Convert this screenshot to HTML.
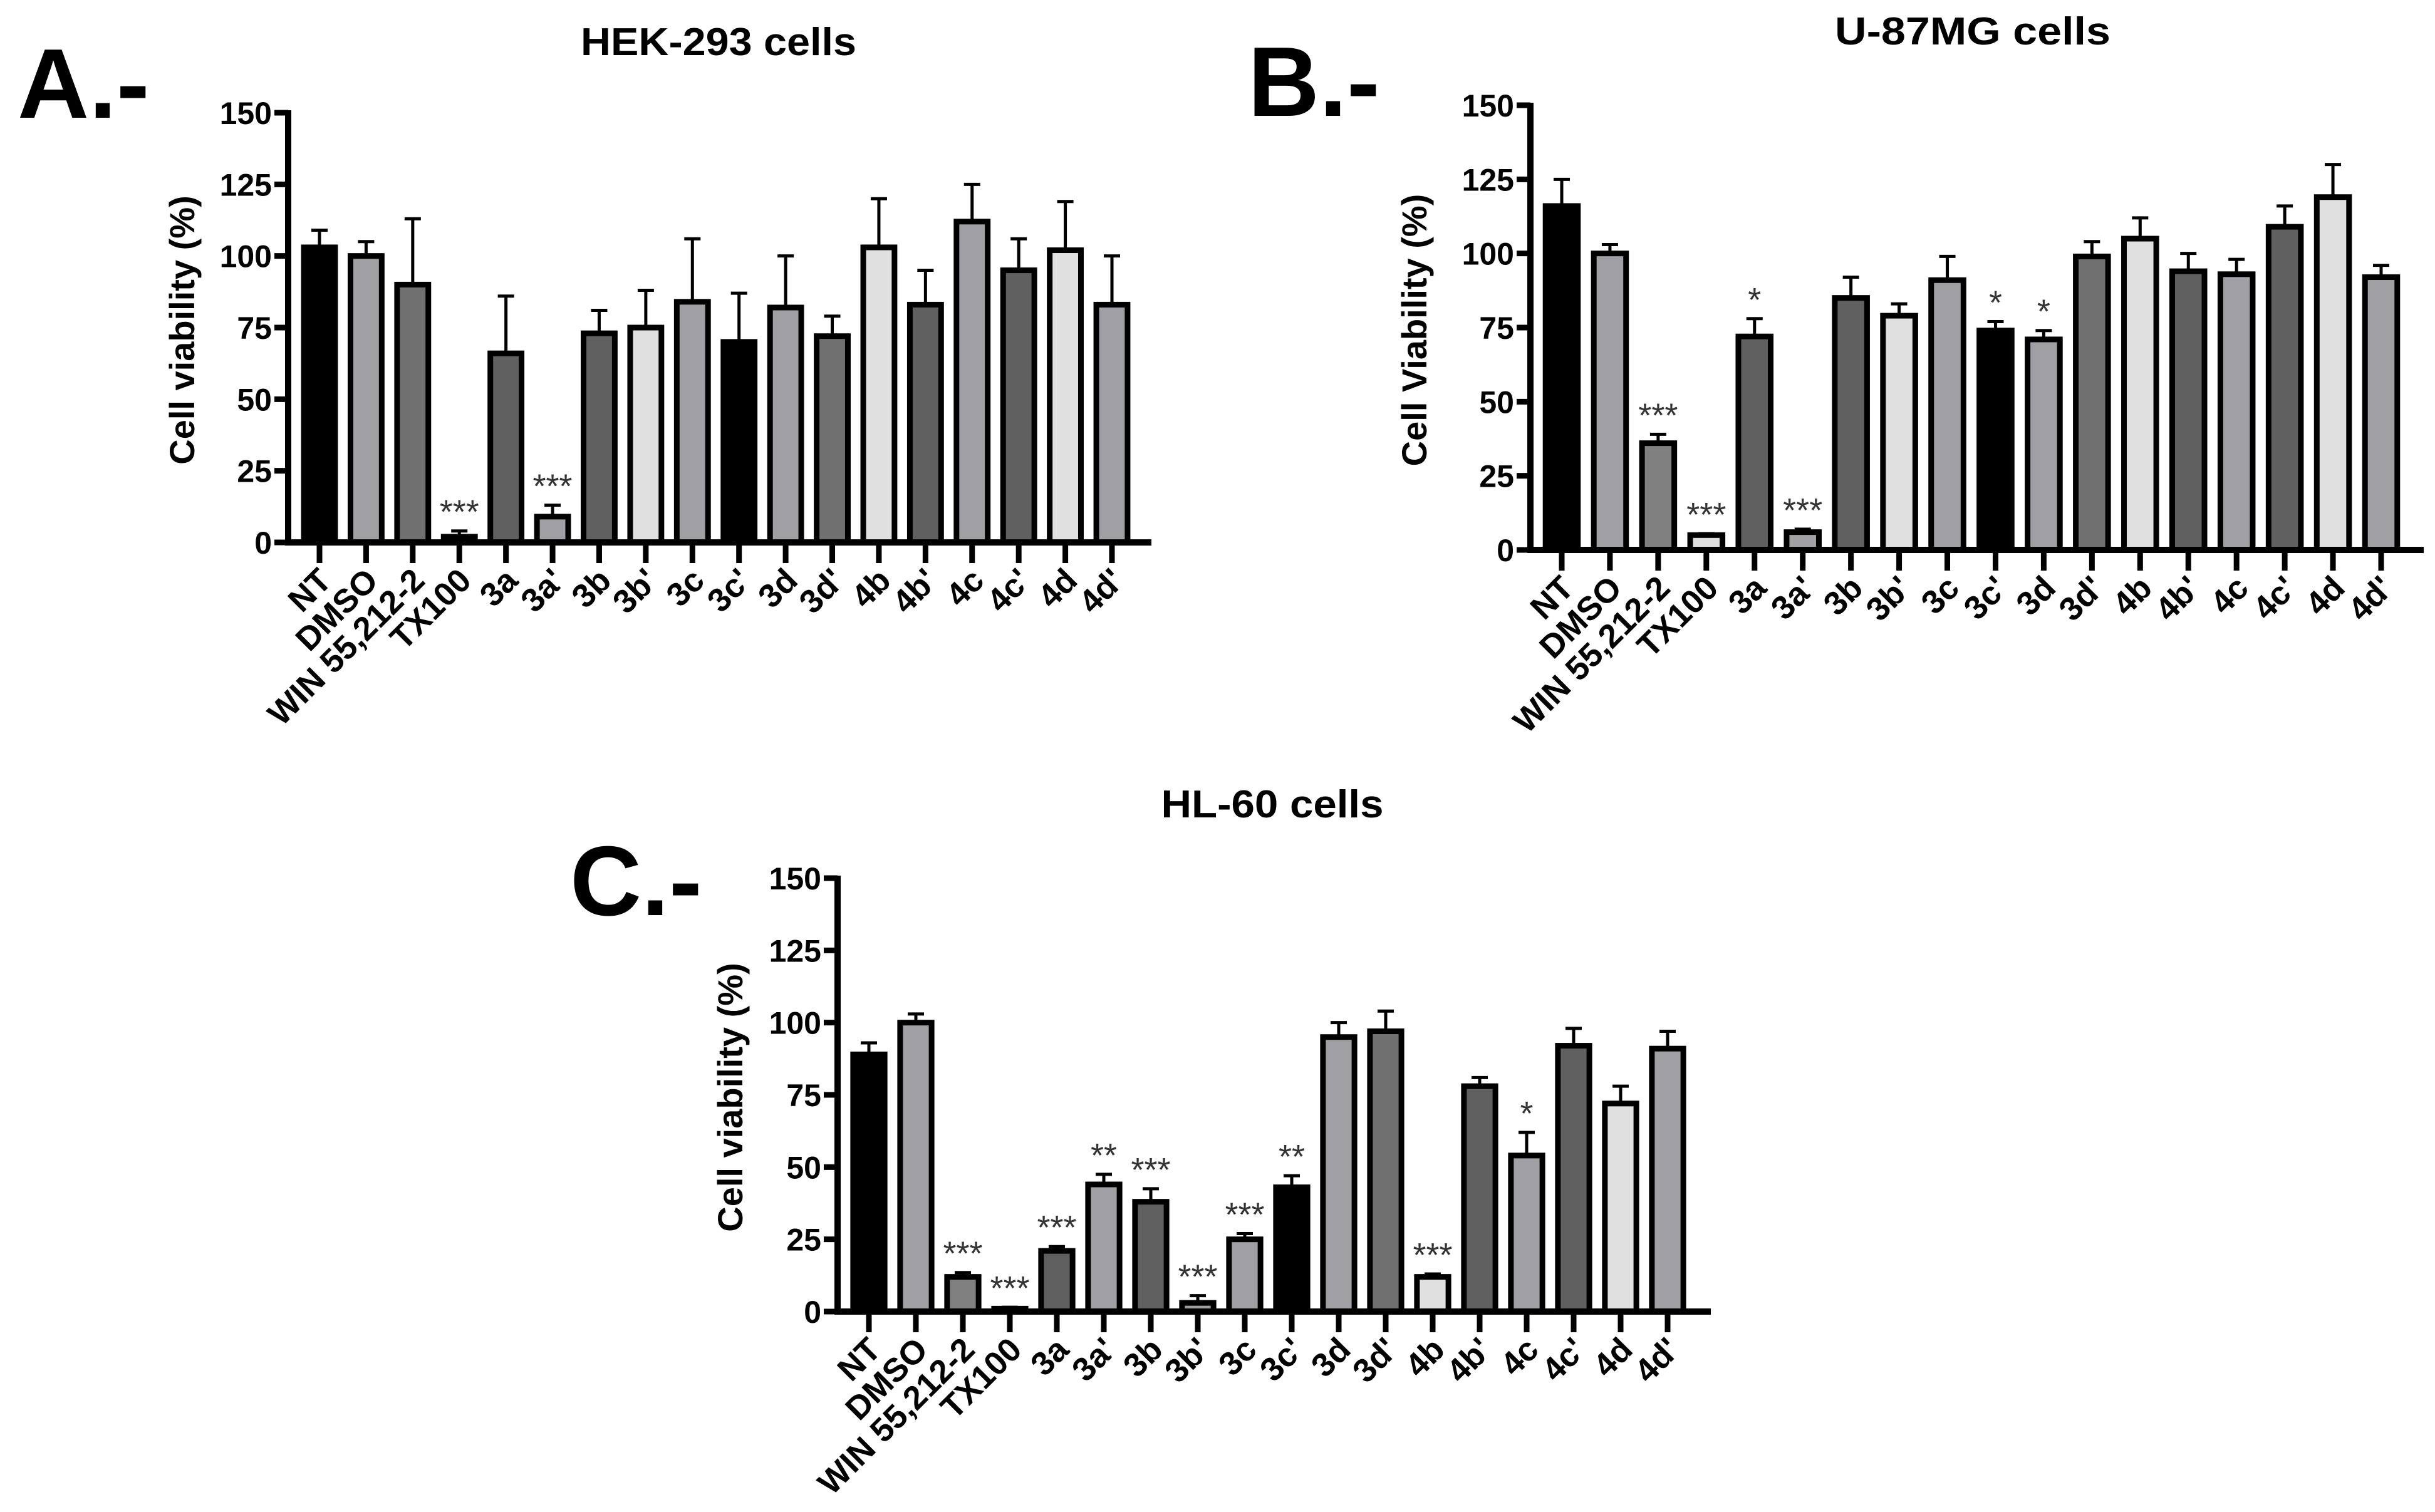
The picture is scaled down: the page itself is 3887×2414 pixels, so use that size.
<!DOCTYPE html>
<html><head><meta charset="utf-8"><style>
html,body{margin:0;padding:0;background:#fff;overflow:hidden;}
svg{display:block;}
text{font-family:"Liberation Sans",sans-serif;font-weight:bold;fill:#000;}
.star{font-weight:normal;fill:#333;}
</style></head><body>
<svg id="fig" width="3887" height="2414" viewBox="0 0 3887 2414" xmlns="http://www.w3.org/2000/svg">
<text x="28" y="188" font-size="158">A.-</text>
<text x="1992" y="185" font-size="158">B.-</text>
<text x="910" y="1461" font-size="158">C.-</text>
</svg>
<script>
const categories = ["NT","DMSO","WIN 55,212-2","TX100","3a","3a'","3b","3b'","3c","3c'","3d","3d'","4b","4b'","4c","4c'","4d","4d'"];
const yTicks = [0,25,50,75,100,125,150];
const valuesA = [103,100,90,2,66,9,73,75,84,70,82,72,103,83,112,95,102,83];
const errTopA = [109,105,113,4,86,13,81,88,106,87,100,79,120,95,125,106,119,100];
const starsA = ["","","","***","","***","","","","","","","","","","","",""];
const valuesB = [116,100,36,5,72,6,85,79,91,74,71,99,105,94,93,109,119,92];
const errTopB = [125,103,39,5.5,78,7,92,83,99,77,74,104,112,100,98,116,130,96];
const starsB = ["","","***","***","*","***","","","","*","*","","","","","","",""];
const valuesC = [89,100,12,1,21,44,38,3,25,43,95,97,12,78,54,92,72,91];
const errTopC = [93,103,13.5,1.5,22.5,47.5,42.5,5.5,27,47,100,104,13,81,62,98,78,97];
const starsC = ["","","***","***","***","**","***","***","***","**","","","***","","*","","",""];
const colorsA = ["#000","#a0a0a4","#707070","#a0a0a4","#606060","#a0a0a4","#606060","#e0e0e0","#a0a0a4","#000","#a0a0a4","#707070","#e0e0e0","#606060","#a0a0a4","#606060","#e0e0e0","#a0a0a4"];
const colorsB = ["#000","#a0a0a4","#808080","#e0e0e0","#606060","#a0a0a4","#606060","#e0e0e0","#a0a0a4","#000","#a0a0a4","#707070","#e0e0e0","#606060","#a0a0a4","#606060","#e0e0e0","#a0a0a4"];
const colorsC = ["#000","#a0a0a4","#808080","#a0a0a4","#606060","#a0a0a4","#606060","#a0a0a4","#a0a0a4","#000","#a0a0a4","#707070","#e0e0e0","#606060","#a0a0a4","#606060","#e0e0e0","#a0a0a4"];

const NS="http://www.w3.org/2000/svg";
const svg=document.getElementById('fig');
function mk(tag,attrs,parent){const e=document.createElementNS(NS,tag);for(const k in attrs)e.setAttribute(k,attrs[k]);(parent||svg).appendChild(e);return e;}

function panel(p){
  const g=mk('g',{});
  
  
  const y=v=>p.y0-(v/150)*(p.y0-p.y150);
  const step=(p.xLast-p.xFirst)/(categories.length-1);
  const x=i=>p.xFirst+i*step;
  const bw=step*0.67;
  const t=mk('text',{x:p.titleX,y:p.titleY,'font-size':62,'text-anchor':'middle',textLength:p.titleLen,lengthAdjust:'spacingAndGlyphs'},g);
  t.textContent=p.title;
  
  
  const yt=mk('text',{x:0,y:0,'font-size':56,'text-anchor':'middle',transform:`translate(${p.yTitleX},${(p.y0+p.y150)/2+4}) rotate(-90)`},g);
  yt.textContent=p.yTitle;
  
  
  for(let i=0;i<categories.length;i++){
    const cx=x(i), top=y(p.vals[i]), et=y(p.err[i]);
    const eb=mk('line',{x1:cx,x2:cx,y1:top,y2:et,stroke:'#000','stroke-width':5},g);
    
    
    const cap=mk('line',{x1:cx-13,x2:cx+13,y1:et,y2:et,stroke:'#000','stroke-width':5},g);
    
    
    const r=mk('rect',{x:cx-bw/2,y:top,width:bw,height:Math.max(p.y0-top,2),fill:p.colors[i],stroke:'#000','stroke-width':9},g);
    
    
    if(p.stars[i]){
      const s=mk('text',{x:cx,y:et-12,'font-size':54,'text-anchor':'middle',class:'star'},g);
      s.textContent=p.stars[i];
      
      
    }
    const tk=mk('line',{x1:cx,x2:cx,y1:p.y0,y2:p.y0+33,stroke:'#000','stroke-width':9},g);
    
    
    const lb=mk('text',{x:0,y:0,'font-size':53,'text-anchor':'end',transform:`translate(${cx+22},${p.y0+64}) rotate(-45)`},g);
    lb.textContent=categories[i];
    
    
  }
  const ya=mk('line',{x1:p.xAxis,x2:p.xAxis,y1:p.y150-4,y2:p.y0+5,stroke:'#000','stroke-width':10},g);
  
  
  const xa=mk('line',{x1:p.xAxis-5,x2:p.xEnd,y1:p.y0,y2:p.y0,stroke:'#000','stroke-width':10},g);
  
  
  yTicks.forEach(v=>{
    const tk=mk('line',{x1:p.xAxis-22,x2:p.xAxis,y1:y(v),y2:y(v),stroke:'#000','stroke-width':9},g);
    
    
    const tl=mk('text',{x:p.xAxis-26,y:y(v)+18,'font-size':50,'text-anchor':'end'},g);
    tl.textContent=v;
    
    
  });
}
panel({id:'hek293',title:'HEK-293 cells',titleX:1147,titleY:88,titleLen:440,yTitle:'Cell viability (%)',yTitleX:310,
  xAxis:460,y150:180,y0:866,xFirst:510,xLast:1775,xEnd:1838,vals:valuesA,err:errTopA,stars:starsA,colors:colorsA});
panel({id:'u87mg',title:'U-87MG cells',titleX:3149,titleY:71,titleLen:440,yTitle:'Cell Viability (%)',yTitleX:2277,
  xAxis:2443,y150:168,y0:878,xFirst:2493,xLast:3801,xEnd:3869,vals:valuesB,err:errTopB,stars:starsB,colors:colorsB});
panel({id:'hl60',title:'HL-60 cells',titleX:2031,titleY:1305,titleLen:355,yTitle:'Cell viability (%)',yTitleX:1185,
  xAxis:1337,y150:1402,y0:2094,xFirst:1387,xLast:2662,xEnd:2731,vals:valuesC,err:errTopC,stars:starsC,colors:colorsC});
</script>
</body></html>
